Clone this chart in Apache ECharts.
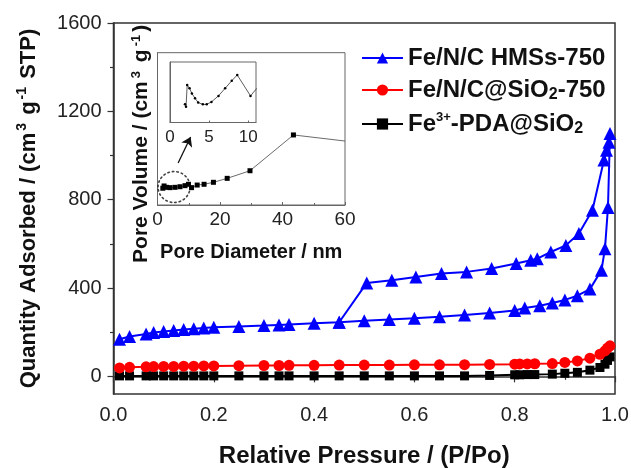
<!DOCTYPE html>
<html>
<head>
<meta charset="utf-8">
<script src="https://cdn.jsdelivr.net/npm/echarts@6/dist/echarts.min.js"></script>
<style>
html,body{margin:0;padding:0;background:#fff;}
#chart_1{width:631px;height:468px;}
</style>
</head>
<body>
<div id="chart_1"></div>
<script>
// 等温线数据 [P/Po, 吸附量]
var hmssAds = [[0.012,168],[0.032,180],[0.065,192],[0.08,198],[0.10,203],[0.12,208],[0.14,212],[0.16,215],[0.18,219],[0.20,222],
    [0.25,226],[0.30,230],[0.33,233],[0.35,235],[0.40,240],[0.45,245],[0.50,252],[0.55,257],[0.60,263],[0.65,270],[0.70,278],
    [0.75,287],[0.80,298],[0.82,309],[0.85,320],[0.875,332],[0.90,346],[0.925,365],[0.95,395],[0.973,480],[0.98,578],[0.986,765],[0.99,1100]];
var hmssDes = [[0.988,1060],[0.983,1024],[0.978,980],[0.955,752],[0.928,647],[0.902,593],[0.872,563],[0.845,533],[0.832,526],
    [0.803,511],[0.754,488],[0.704,473],[0.654,466],[0.603,450],[0.555,435],[0.505,423],[0.45,245]];
var sio2Ads = [[0.012,38],[0.032,41],[0.065,43],[0.08,44],[0.10,45],[0.12,45],[0.14,46],[0.16,46],[0.18,47],[0.20,47],
    [0.25,48],[0.30,49],[0.33,49],[0.35,50],[0.40,50],[0.45,51],[0.50,51],[0.55,51],[0.60,52],[0.65,52],[0.70,53],
    [0.75,54],[0.80,55],[0.81,56],[0.825,56],[0.84,57],[0.875,58],[0.90,63],[0.925,70],[0.95,82],[0.97,100],[0.98,115],[0.985,128],[0.99,138]];
var pdaAds = [[0.012,2],[0.032,2],[0.065,2],[0.08,2],[0.10,2],[0.12,2],[0.14,2],[0.16,2],[0.18,2],[0.20,2],
    [0.25,2],[0.30,2],[0.33,2],[0.35,2],[0.40,2],[0.45,2],[0.50,2],[0.55,2],[0.60,2],[0.65,2],[0.70,2],
    [0.75,4],[0.80,7],[0.81,7],[0.825,8],[0.84,8],[0.875,10],[0.90,14],[0.925,18],[0.95,28],[0.97,40],[0.98,55],[0.985,72],[0.99,88]];
// 孔径分布 (插图) [nm, 相对孔容]
var poreDist = [[1.7,0.11],[2.1,0.125],[2.9,0.116],[4.0,0.114],[5.6,0.116],[7.2,0.12],[8.8,0.127],[9.9,0.136],[10.9,0.114],
    [12.7,0.131],[14.9,0.136],[17.9,0.149],[22.3,0.175],[29.6,0.225],[43.5,0.46]];
var poreEnd = [60,0.42];
var poreSmall = [[1.92,0.30],[2.05,0.26],[2.2,0.62],[2.5,0.565],[2.8,0.48],[3.2,0.40],[3.6,0.33],[4.2,0.30],[4.7,0.30],
    [5.3,0.34],[6.2,0.44],[7.05,0.565],[7.9,0.69],[8.6,0.785],[10.3,0.44],[11.1,0.565]];
var yMajor = [0,400,800,1200,1600];
var yMinor = [200,600,1000,1400];
var seriesNames = ['Fe/N/C HMSs-750','Fe/N/C@SiO2-750','Fe3+-PDA@SiO2'];

var FONT = 'Liberation Sans, Arial, sans-serif';
var richT = {
    t:{fontSize:22,fontWeight:'bold',fontFamily:FONT,color:'#111',lineHeight:26},
    s:{fontSize:14,fontWeight:'bold',fontFamily:FONT,color:'#111',lineHeight:14,verticalAlign:'top',padding:[0,2,0,2]}
};
var richI = {
    t:{fontSize:21,fontWeight:'bold',fontFamily:FONT,color:'#111',lineHeight:24},
    s:{fontSize:13,fontWeight:'bold',fontFamily:FONT,color:'#111',lineHeight:13,verticalAlign:'top',padding:[0,3,0,3]}
};

function chart(){
    var option = {
        animation:false,
        legend:{
            data:seriesNames,
            orient:'vertical',
            left:361, top:46, padding:0,
            itemWidth:41, itemHeight:14, itemGap:8,
            formatter:function(name){
                if(name==seriesNames[1]) return '{n|Fe/N/C@SiO}{sub|2}{n|-750}';
                if(name==seriesNames[2]) return '{n|Fe}{sup|3+}{n|-PDA@SiO}{sub|2}';
                return '{n|'+name+'}';
            },
            textStyle:{
                fontSize:24,fontWeight:'bold',fontFamily:FONT,color:'#111',
                rich:{
                    n:{fontSize:24,fontWeight:'bold',fontFamily:FONT,color:'#111',lineHeight:26},
                    sub:{fontSize:16,fontWeight:'bold',fontFamily:FONT,color:'#111',lineHeight:20,verticalAlign:'bottom'},
                    sup:{fontSize:13,fontWeight:'bold',fontFamily:FONT,color:'#111',lineHeight:13,verticalAlign:'top'}
                }
            }
        },
        grid:[
            {left:113.5,right:16,top:23,bottom:74,show:true,borderColor:'#333',borderWidth:1.5,outerBoundsMode:'none'},
            {left:157.5,top:52.7,width:187.5,height:152.3,show:true,backgroundColor:'#fff',borderColor:'#666',borderWidth:1,outerBoundsMode:'none'},
            {left:170,top:62,width:86,height:60.5,show:true,backgroundColor:'#fff',borderColor:'#666',borderWidth:1,outerBoundsMode:'none'}
        ],
        xAxis:[
            {
                type:'value',gridIndex:0,min:0,max:1,interval:0.2,
                name:'Relative Pressure / (P/Po)',nameLocation:'middle',nameGap:50,
                nameTextStyle:{fontSize:24,fontWeight:'bold',fontFamily:FONT,color:'#111'},
                axisLine:{lineStyle:{color:'#333',width:1.5}},
                axisTick:{length:6,lineStyle:{color:'#333',width:1.2}},
                minorTick:{show:true,splitNumber:2,length:3.5,lineStyle:{color:'#333',width:1.2}},
                axisLabel:{margin:11,fontSize:20,fontFamily:FONT,color:'#222',formatter:function(v){return v.toFixed(1);}},
                splitLine:{show:false}
            },
            {
                type:'value',gridIndex:1,min:0,max:60,interval:20,
                name:'Pore Diameter / nm',nameLocation:'middle',nameGap:37,
                nameTextStyle:{fontSize:20,fontWeight:'bold',fontFamily:FONT,color:'#111'},
                axisLine:{lineStyle:{color:'#666',width:1}},
                axisTick:{inside:true,length:3,lineStyle:{color:'#666'}},
                minorTick:{show:true,splitNumber:2,length:2,lineStyle:{color:'#666'}},
                axisLabel:{margin:5,fontSize:19,fontFamily:FONT,color:'#222'},
                splitLine:{show:false}
            },
            {
                type:'value',gridIndex:2,min:0,max:11,interval:5,
                axisLine:{lineStyle:{color:'#666',width:1}},
                axisTick:{inside:true,length:2,lineStyle:{color:'#666'}},
                axisLabel:{margin:6,fontSize:17,fontFamily:FONT,color:'#222',showMaxLabel:false},
                splitLine:{show:false}
            }
        ],
        yAxis:[
            {
                type:'value',gridIndex:0,min:-80,max:1600,position:'left',
                name:'{t|Quantity Adsorbed / (cm}{s|3}{t| g}{s|-1}{t| STP)}',nameLocation:'middle',nameGap:72,
                nameTextStyle:{rich:richT},
                axisLine:{lineStyle:{color:'#333',width:1.5}},
                axisTick:{length:6,customValues:yMajor,lineStyle:{color:'#333',width:1.2}},
                axisLabel:{margin:12,fontSize:20,fontFamily:FONT,color:'#222',customValues:yMajor,
                    formatter:function(v){return String(v);}},
                splitLine:{show:false}
            },
            {
                type:'value',gridIndex:0,min:-80,max:1600,position:'left',offset:0,
                axisLine:{show:false},
                axisTick:{length:3.5,customValues:yMinor,lineStyle:{color:'#333',width:1.2}},
                axisLabel:{show:false},
                splitLine:{show:false}
            },
            {
                type:'value',gridIndex:1,min:0,max:1,
                name:'{t|Pore Volume / (cm}{s|3}{t| g}{s|-1}{t|)}',nameLocation:'middle',nameGap:4,
                nameTextStyle:{rich:richI,padding:[0,30,0,0]},
                axisLine:{lineStyle:{color:'#666',width:1}},
                axisTick:{show:false},
                axisLabel:{show:false},
                splitLine:{show:false}
            },
            {
                type:'value',gridIndex:2,min:0,max:1,
                axisLine:{lineStyle:{color:'#666',width:1}},
                axisTick:{show:false},
                axisLabel:{show:false},
                splitLine:{show:false}
            }
        ],
        series:[
            {
                name:seriesNames[2],type:'line',xAxisIndex:0,yAxisIndex:0,
                data:pdaAds,symbol:'rect',symbolSize:9,
                itemStyle:{color:'#000'},lineStyle:{color:'#000',width:2}
            },
            {
                name:seriesNames[1],type:'line',xAxisIndex:0,yAxisIndex:0,
                data:sio2Ads,symbol:'circle',symbolSize:11,
                itemStyle:{color:'#ff0000'},lineStyle:{color:'#ff0000',width:2}
            },
            {
                name:seriesNames[0],type:'line',xAxisIndex:0,yAxisIndex:0,
                data:hmssAds.concat(hmssDes),symbol:'triangle',symbolSize:13,
                itemStyle:{color:'#0000ff'},lineStyle:{color:'#0000ff',width:2}
            },
            {
                name:'pore',type:'line',xAxisIndex:1,yAxisIndex:2,
                data:poreDist.concat([{value:poreEnd,symbol:'none'}]),
                symbol:'rect',symbolSize:5,
                itemStyle:{color:'#000'},lineStyle:{color:'#444',width:0.8},
                markLine:{
                    silent:true,symbol:['none','arrow'],symbolSize:9,
                    label:{show:false},
                    lineStyle:{color:'#111',width:1.3,type:'solid'},
                    data:[[{coord:[6.6,0.276]},{coord:[10.6,0.446]}]]
                }
            },
            {
                name:'ring',type:'scatter',xAxisIndex:1,yAxisIndex:2,silent:true,
                data:[[5.3,0.118]],symbol:'circle',symbolSize:[32,31],
                itemStyle:{color:'rgba(0,0,0,0)',borderColor:'#111',borderWidth:1.6,borderType:[1.5,3],borderCap:'round'}
            },
            {
                name:'poreSmall',type:'line',xAxisIndex:2,yAxisIndex:3,
                data:poreSmall,symbol:'circle',symbolSize:2.5,
                itemStyle:{color:'#000'},lineStyle:{color:'#333',width:0.8}
            }
        ]
    };
    var myChart1 = echarts.init(document.getElementById('chart_1'));
    myChart1.setOption(option);
}
chart();
</script>
</body>
</html>
